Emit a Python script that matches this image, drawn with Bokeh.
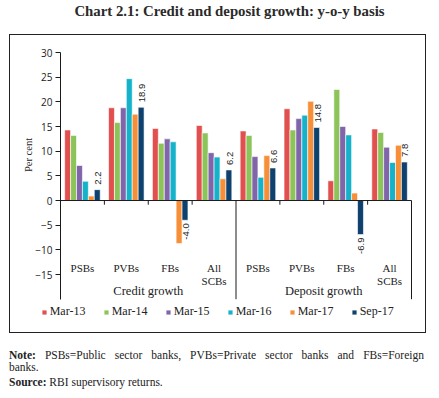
from math import pi
from bokeh.plotting import figure
from bokeh.layouts import column
from bokeh.models import (Range1d, ColumnDataSource, FixedTicker, Legend, LegendItem,
                          Label, Div)
from bokeh.transform import dodge
from bokeh.core.properties import value
from bokeh.embed import file_html
from bokeh.resources import INLINE

# ---------------- data ----------------
groups = ["Credit growth", "Deposit growth"]
banks = ["PSBs", "PVBs", "FBs", "All SCBs"]
series = ["Mar-13", "Mar-14", "Mar-15", "Mar-16", "Mar-17", "Sep-17"]
mar13 = [14.3, 18.8, 14.6, 15.2, 14.1, 18.6, 4.0, 14.5]
mar14 = [13.2, 15.8, 11.6, 13.7, 13.2, 14.3, 22.5, 13.8]
mar15 = [7.1, 18.8, 12.5, 9.7, 8.9, 16.6, 15.0, 10.8]
mar16 = [3.9, 24.7, 11.9, 8.8, 4.7, 17.3, 13.3, 7.7]
mar17 = [0.9, 17.5, -8.7, 4.4, 9.1, 20.1, 1.5, 11.2]
sep17 = [2.2, 18.9, -4.0, 6.2, 6.6, 14.8, -6.9, 7.8]
y_ticks = [-15, -10, -5, 0, 5, 10, 15, 20, 25, 30]
y_label = "Per cent"
title_text = "Chart 2.1: Credit and deposit growth: y-o-y basis"
note_head = "Note:"
note_body = "PSBs=Public sector banks, PVBs=Private sector banks and FBs=Foreign"
note_tail = "banks."
source_head = "Source:"
source_body = "RBI supervisory returns."

colors = ["#E24F4F", "#8CC45A", "#8165AA", "#15B3C9", "#F68F38", "#0E416D"]
values_by_series = [mar13, mar14, mar15, mar16, mar17, sep17]

# ---------------- layout constants (page pixels) ----------------
FIG_X, FIG_Y = 10, 35            # box / figure position on the page
W, H = 415, 297                  # box size
AX_LEFT, AX_RIGHT = 60, 411      # category axis extent on the page
Y_TOP_PX, Y_BOT_PX = 52, 298.7   # page y of the y-axis ends
YMIN, YMAX = -20, 30

n = len(groups) * len(banks)
ux = (AX_RIGHT - AX_LEFT) / n                # px per category
uy = (Y_BOT_PX - Y_TOP_PX) / (YMAX - YMIN)   # px per percent

def xd(px):
    return (px - AX_LEFT) / ux

def yd(py):
    return YMAX - (py - Y_TOP_PX) / uy

p = figure(width=W, height=H, output_backend="svg", toolbar_location=None, title=None,
           x_range=Range1d(xd(FIG_X), xd(FIG_X + W)),
           y_range=Range1d(yd(FIG_Y + H), yd(FIG_Y)), x_axis_location=None,
           min_border_left=0, min_border_right=0, min_border_top=0, min_border_bottom=0,
           margin=(0, 0, 0, FIG_X),
           styles={"outline": "1.2px solid #222222"})
p.outline_line_color = None
p.xgrid.visible = False
p.ygrid.visible = False
p.background_fill_color = "white"
p.border_fill_color = "white"

# category positions (one unit per category, groups side by side)
labels = [b for g in groups for b in banks]
xc = [i + 0.5 for i in range(n)]
data = {"xc": xc, "lab": labels}
for s, v in zip(series, values_by_series):
    data[s] = v
src = ColumnDataSource(data)

bw = 0.135
renderers = []
for i, (s, c) in enumerate(zip(series, colors)):
    r = p.vbar(x=dodge("xc", (i - 2.5) * bw), top=s, width=bw,
               source=src, fill_color=c, line_color="white", line_width=0.6)
    renderers.append(r)

# value labels for Sep-17
pos = ColumnDataSource(dict(x=[x for x, v in zip(xc, sep17) if v >= 0],
                            y=[v for v in sep17 if v >= 0],
                            t=[f"{v:.1f}" for v in sep17 if v >= 0]))
neg = ColumnDataSource(dict(x=[x for x, v in zip(xc, sep17) if v < 0],
                            y=[v for v in sep17 if v < 0],
                            t=[f"{v:.1f}" for v in sep17 if v < 0]))
lab_x = 2.5 * bw
p.text(x=dodge("x", lab_x), y="y", text="t", source=pos, angle=pi / 2,
       text_align="left", text_baseline="middle", y_offset=-5, x_offset=1,
       text_font=value("Liberation Sans"), text_font_size="9.5px", text_color="#222222")
p.text(x=dodge("x", lab_x), y="y", text="t", source=neg, angle=pi / 2,
       text_align="right", text_baseline="middle", y_offset=3, x_offset=1,
       text_font=value("Liberation Sans"), text_font_size="9.5px", text_color="#222222")

# category axis line at zero with ticks
p.segment(x0=[0], x1=[n], y0=[0], y1=[0], line_color="#1a1a1a", line_width=1)
short_x = [i for i in range(1, n) if i % len(banks) != 0]
long_x = [i for i in range(1, n + 1) if i % len(banks) == 0]
p.segment(x0=short_x, x1=short_x, y0=[0] * len(short_x), y1=[-0.85] * len(short_x),
          line_color="#1a1a1a", line_width=1)
p.segment(x0=long_x, x1=long_x, y0=[0] * len(long_x), y1=[YMIN] * len(long_x),
          line_color="#1a1a1a", line_width=1)

# category labels
cat_src = ColumnDataSource(dict(x=xc, t=[b.replace(" ", "\n") for b in labels],
                                y=[yd(261)] * n))
p.text(x="x", y="y", text="t", source=cat_src, text_align="center", text_baseline="top",
       text_line_height=1.1, text_font=value("Liberation Serif"), text_font_size="11px",
       text_color="#222222")
gx = [sum(xc[k * len(banks):(k + 1) * len(banks)]) / len(banks) for k in range(len(groups))]
grp_src = ColumnDataSource(dict(x=gx, t=groups, y=[yd(290.7)] * len(groups)))
p.text(x="x", y="y", text="t", source=grp_src, text_align="center", text_baseline="middle",
       text_font=value("Liberation Serif"), text_font_size="12.5px", text_color="#222222")

# y axis, drawn at the start of the categories
ax = p.yaxis[0]
ax.fixed_location = 0
ax.bounds = (YMIN, YMAX)
ax.ticker = FixedTicker(ticks=y_ticks)
ax.minor_tick_line_color = None
ax.major_tick_out = 5
ax.major_tick_in = 0
ax.major_label_standoff = 3
ax.major_label_text_font = "Open Sans"
ax.major_label_text_font_size = "10px"
ax.major_label_text_color = "#222222"
ax.axis_line_color = "#1a1a1a"
ax.major_tick_line_color = "#1a1a1a"

p.add_layout(Label(x=xd(27.5), y=yd(154.5), text=y_label, angle=pi / 2, text_align="center",
                   text_baseline="middle", text_font="Liberation Serif",
                   text_font_size="10.5px", text_color="#222222"))

# legend inside the box, under the categories
legend = Legend(items=[LegendItem(label=s, renderers=[r]) for s, r in zip(series, renderers)],
                orientation="horizontal", location=(30.7, 13), glyph_width=6, glyph_height=6,
                label_text_font="Liberation Serif", label_text_font_size="12px",
                label_text_color="#222222", label_standoff=3, spacing=17, padding=0, margin=0,
                border_line_color=None, background_fill_alpha=0, label_height=12,
                label_width=36)
p.add_layout(legend)

# title and notes
title_div = Div(text=title_text, width=419, height=FIG_Y, margin=(0, 0, 0, 20),
                styles={"font-family": "Liberation Serif", "font-weight": "bold",
                        "font-size": "14.8px", "text-align": "center", "line-height": "22px",
                        "color": "#2a2a2a"})
notes_html = (
    f'<div style="width:415px;margin-top:16.5px;text-align:justify;text-align-last:justify;'
    f'line-height:12.5px;"><b>{note_head}</b> {note_body}</div>'
    f'<div style="line-height:12.5px;">{note_tail}</div>'
    f'<div style="line-height:12.5px;margin-top:2px;"><b>{source_head}</b> {source_body}</div>'
)
note_div = Div(text=notes_html, width=415, height=398 - FIG_Y - H, margin=(0, 0, 0, 9),
               styles={"font-family": "Liberation Serif", "font-size": "11.5px",
                       "color": "#222222"})

layout = column(title_div, p, note_div, spacing=0)
open("out.html", "w").write(file_html(layout, INLINE))
